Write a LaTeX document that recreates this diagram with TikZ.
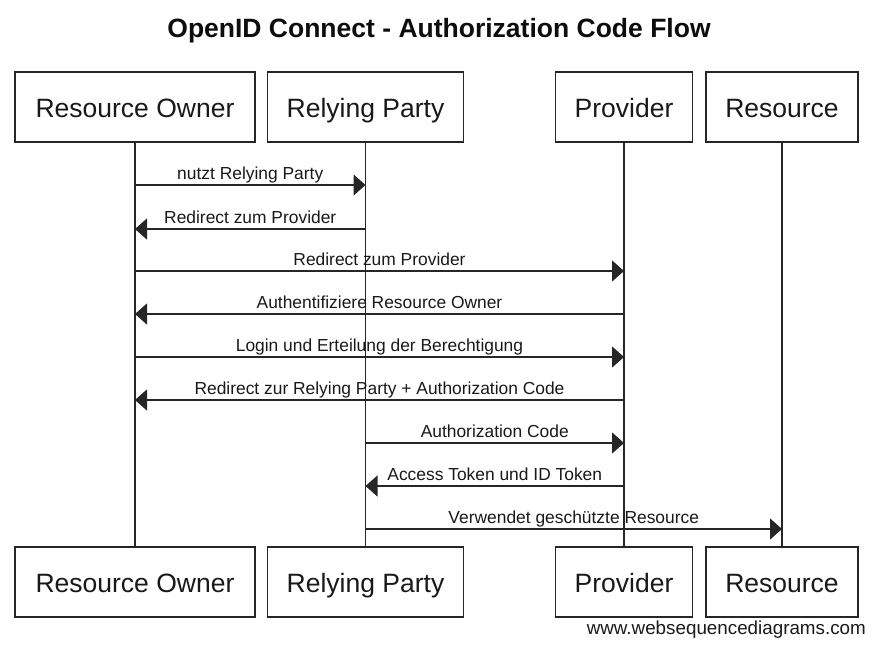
\documentclass[tikz,border=0pt]{standalone}
\usepackage{fontspec}
\setmainfont{Liberation Sans}
\usetikzlibrary{arrows.meta}
\begin{document}
\begin{tikzpicture}[x=1pt,y=-1pt,
  actor/.style={draw=black!85,line width=1.2pt,minimum height=70pt,inner sep=0pt,text height=20pt,text depth=0pt,font=\fontsize{26.5}{30}\selectfont,text=black!90},
  life/.style={draw=black!85,line width=1.2pt},
  msg/.style={draw=black!85,line width=1.3pt,-{Triangle[length=12pt,width=21pt]}},
  lbl/.style={font=\fontsize{17.4}{20}\selectfont,text=black!90,inner sep=0pt,anchor=base,yshift=6pt}]
\useasboundingbox (0,0) rectangle (878,645);
\node[font=\bfseries\fontsize{26.5}{30}\selectfont,text=black!95] (title) at (439,31) {OpenID Connect - Authorization Code Flow};
% top actors
\node[actor,minimum width=240pt] (ro1) at (135,107) {Resource Owner};
\node[actor,minimum width=196pt] (rp1) at (365.5,107) {Relying Party};
\node[actor,minimum width=137pt] (pv1) at (624,107) {Provider};
\node[actor,minimum width=152pt] (rs1) at (782,107) {Resource};
% bottom actors
\node[actor,minimum width=240pt] (ro2) at (135,582) {Resource Owner};
\node[actor,minimum width=196pt] (rp2) at (365.5,582) {Relying Party};
\node[actor,minimum width=137pt] (pv2) at (624,582) {Provider};
\node[actor,minimum width=152pt] (rs2) at (782,582) {Resource};
% lifelines
\draw[life] (ro1.south) -- (ro2.north);
\draw[life] (rp1.south) -- (rp2.north);
\draw[life] (pv1.south) -- (pv2.north);
\draw[life] (rs1.south) -- (rs2.north);
% message anchor points
\foreach \n/\y in {1/185,2/229,3/271,4/314,5/357,6/400,7/443,8/486,9/529}{
  \coordinate (ro\n) at (ro1.south |- 0,\y);
  \coordinate (rp\n) at (rp1.south |- 0,\y);
  \coordinate (pv\n) at (pv1.south |- 0,\y);
  \coordinate (rs\n) at (rs1.south |- 0,\y);
}
\draw[msg] (ro1) -- node[lbl] {nutzt Relying Party} (rp1);
\draw[msg] (rp2) -- node[lbl] {Redirect zum Provider} (ro2);
\draw[msg] (ro3) -- node[lbl] {Redirect zum Provider} (pv3);
\draw[msg] (pv4) -- node[lbl] {Authentifiziere Resource Owner} (ro4);
\draw[msg] (ro5) -- node[lbl] {Login und Erteilung der Berechtigung} (pv5);
\draw[msg] (pv6) -- node[lbl] {Redirect zur Relying Party + Authorization Code} (ro6);
\draw[msg] (rp7) -- node[lbl] {Authorization Code} (pv7);
\draw[msg] (pv8) -- node[lbl] {Access Token und ID Token} (rp8);
\draw[msg] (rp9) -- node[lbl] {Verwendet geschützte Resource} (rs9);
\node[font=\fontsize{18.8}{21}\selectfont,text=black!90,inner sep=0pt,anchor=east] (wm) at (866,630) {www.websequencediagrams.com};
\end{tikzpicture}
\end{document}
